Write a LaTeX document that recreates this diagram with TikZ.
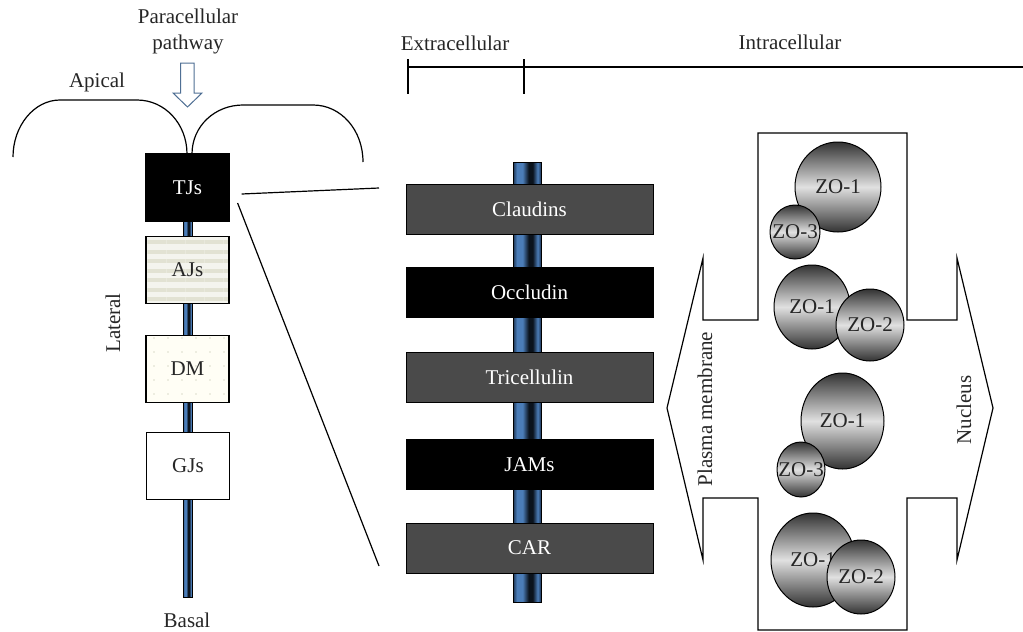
\documentclass[tikz,border=0pt]{standalone}
\usepackage{fontspec}
\setmainfont{Liberation Serif}
\usepackage{tikz}
\usetikzlibrary{shapes.geometric,patterns.meta}
\definecolor{colorbox}{HTML}{4A4A4A}
\definecolor{colorajs}{HTML}{F4F4EE}
\definecolor{colorstripe}{HTML}{E2E2D3}
\definecolor{colordot}{HTML}{DCDCCC}
\definecolor{colorpath}{HTML}{4F6F94}
\definecolor{barblue}{HTML}{4B7DB8}
\definecolor{bardark}{HTML}{1C3352}
\definecolor{barnight}{HTML}{0B131D}
\pgfdeclarehorizontalshading{barshade}{100bp}{color(0bp)=(bardark); color(25bp)=(bardark);
  color(32bp)=(barblue); color(42bp)=(barblue); color(53bp)=(barnight); color(60bp)=(barnight);
  color(69bp)=(barblue); color(75bp)=(bardark); color(100bp)=(bardark)}
\tikzset{
  junction/.style={draw=black, minimum width=41.5pt, minimum height=33.5pt, inner sep=0pt},
  protein/.style={draw=black, line width=0.5pt, text=white, minimum width=123.5pt,
    minimum height=25pt, inner sep=0pt},
  zo/.style={ellipse, draw=black, line width=0.5pt, inner sep=0pt,
    top color=black!80, bottom color=black!80, middle color=black!12},
  membrane/.style={draw=black, line width=0.4pt, shading=barshade},
  caption/.style={inner sep=1pt}
}
\newcommand\zolabel[1]{\makebox[0pt]{#1}}

\begin{document}
\begin{tikzpicture}[x=0.5pt, y=-0.5pt, line width=0.6pt,
  every node/.style={text=black!85, font=\fontsize{10.5}{13}\selectfont}]
\useasboundingbox (0,0) rectangle (1023,632);

% apical side of the two cells
\draw (13,157) .. controls (13,126) and (34,100) .. (60,100) -- (137,100)
  .. controls (165,100) and (187,124) .. (187,154);
\draw (192,154) .. controls (192,126) and (215,105) .. (243,105) -- (313,105)
  .. controls (341,105) and (363,130) .. (363,162);
\node[caption] (apical) at (97,82) {Apical};
\node[caption, align=center] (para) at (188,31) {Paracellular\\pathway};
\draw[colorpath, fill=white, line width=0.5pt] (180.5,63) -- (194,63) -- (194,93)
  -- (202,93) -- (187.5,107) -- (173,93) -- (180.5,93) -- cycle;

% lateral junctions
\draw[membrane] (183,190) rectangle (192,597);
\node[junction, fill=black, text=white] (tjs) at (187.5,187.5) {TJs};
\node[junction, preaction={fill=colorajs},
  pattern={Lines[angle=0, distance=4.75pt, line width=2pt]}, pattern color=colorstripe]
  (ajs) at (187.5,270) {AJs};
\node[junction, preaction={fill=white!96!yellow},
  pattern={Dots[distance=7pt, radius=0.45pt]}, pattern color=colordot]
  (dm) at (187.5,369) {DM};
\node[junction, fill=white] (gjs) at (188,466) {GJs};
\node[caption, rotate=90] (lateral) at (113,323) {Lateral};
\node[caption] (basal) at (187,620) {Basal};

% scale above the detail
\draw (408,67) -- (1023,67);
\draw (408,59) -- (408,94);
\draw (524,59) -- (524,94);
\node[caption] (extra) at (455,43) {Extracellular};
\node[caption] (intra) at (790,42) {Intracellular};

% tight junction proteins
\draw[membrane] (513,162) rectangle (541,602);
\node[protein, fill=colorbox] (claudins) at (529.5,209) {Claudins};
\node[protein, fill=black] (occludin) at (529.5,292.5) {Occludin};
\node[protein, fill=colorbox] (tricellulin) at (529.5,377) {Tricellulin};
\node[protein, fill=black] (jams) at (529.5,464.5) {JAMs};
\node[protein, fill=colorbox] (car) at (529.5,548) {CAR};

\coordinate (zoomtop) at (379,188);
\coordinate (zoombot) at (379,566);
\draw ([shift={(12,6.5)}]tjs.east) -- (zoomtop);
\draw ([shift={(8,15.5)}]tjs.east) -- (zoombot);

% double arrow between membrane and nucleus
\draw (758,133) -- (907,133) -- (907,320) -- (957,320) -- (957,258) -- (993,408)
  -- (957,560) -- (957,498) -- (907,498) -- (907,630) -- (758,630) -- (758,498)
  -- (703,498) -- (703,560) -- (667,408) -- (703,258) -- (703,320) -- (758,320) -- cycle;
\node[caption, rotate=90] (plasma) at (705,409) {Plasma membrane};
\node[caption, rotate=90] (nucleus) at (964,410) {Nucleus};

% scaffold proteins
\node[zo, minimum width=43pt, minimum height=45pt] (zo1a) at (838,187) {\zolabel{ZO-1}};
\node[zo, minimum width=25pt, minimum height=27pt] (zo3a) at (795,232) {\zolabel{ZO-3}};
\node[zo, minimum width=38pt, minimum height=42pt] (zo1b) at (812,307) {\zolabel{ZO-1}};
\node[zo, minimum width=34pt, minimum height=36pt] (zo2b) at (870,325) {\zolabel{ZO-2}};
\node[zo, minimum width=41.5pt, minimum height=48pt] (zo1c) at (842.5,421) {\zolabel{ZO-1}};
\node[zo, minimum width=24pt, minimum height=27.5pt] (zo3c) at (801,469.5) {\zolabel{ZO-3}};
\node[zo, minimum width=42pt, minimum height=47pt] (zo1d) at (813,560) {\zolabel{ZO-1}};
\node[zo, minimum width=34pt, minimum height=37pt] (zo2d) at (861,577) {\zolabel{ZO-2}};
\end{tikzpicture}
\end{document}
